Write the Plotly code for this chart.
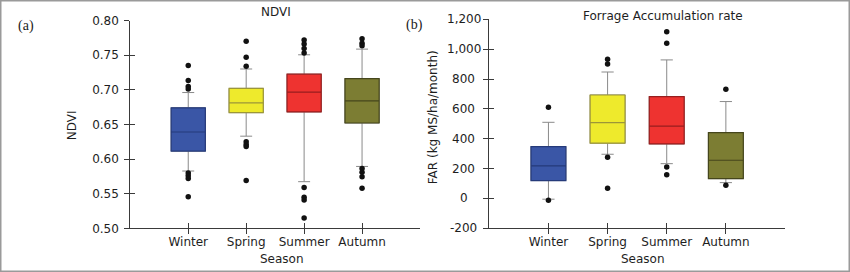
import plotly.graph_objects as go

W, H = 850, 272

seasons = ["Winter", "Spring", "Summer", "Autumn"]
fill_colors = ["#3a56a6", "#eeea2c", "#ee3330", "#7c7d33"]
edge_colors = ["#253a7a", "#9c9638", "#981e1e", "#45461c"]

# NDVI box statistics
ndvi_q1 = [0.6115, 0.667, 0.668, 0.652]
ndvi_med = [0.639, 0.681, 0.6966, 0.684]
ndvi_q3 = [0.674, 0.702, 0.7225, 0.716]
ndvi_lo = [0.5827, 0.633, 0.5673, 0.5893]
ndvi_hi = [0.696, 0.730, 0.7505, 0.7587]
ndvi_out = [
    [0.735, 0.7134, 0.7048, 0.701, 0.580, 0.576, 0.572, 0.5457],
    [0.770, 0.747, 0.734, 0.625, 0.621, 0.618, 0.569],
    [0.772, 0.766, 0.7596, 0.753, 0.559, 0.5447, 0.5409, 0.5149],
    [0.7736, 0.767, 0.7635, 0.5865, 0.581, 0.5746, 0.558],
]

# FAR box statistics
far_q1 = [120, 370, 365, 133]
far_med = [218, 508, 484, 256]
far_q3 = [347, 693, 682, 441]
far_lo = [-5, 296, 233, 106]
far_hi = [510, 847, 928, 649]
far_out = [
    [611, -12],
    [932, 901, 276, 68],
    [1117, 1039, 211, 158],
    [731, 89],
]

ndvi_ticks = [0.50, 0.55, 0.60, 0.65, 0.70, 0.75, 0.80]
ndvi_ticklabels = ["0.50", "0.55", "0.60", "0.65", "0.70", "0.75", "0.80"]
far_ticks = [-200, 0, 200, 400, 600, 800, 1000, 1200]
far_ticklabels = ["-200", "0", "200", "400", "600", "800", "1,000", "1,200"]

FONT = "DejaVu Sans"
AX = "#3a3a3a"
WH = "#8a8a8a"

fig = go.Figure()

def add_panel(xa, ya, q1, med, q3, lo, hi, outs):
    for i, s in enumerate(seasons):
        # whiskers (gray)
        fig.add_trace(go.Box(
            x=[s], q1=[q1[i]], median=[med[i]], q3=[q3[i]],
            lowerfence=[lo[i]], upperfence=[hi[i]],
            xaxis=xa, yaxis=ya, width=0.59, whiskerwidth=0.35,
            fillcolor="rgba(0,0,0,0)", line=dict(color=WH, width=1),
            boxpoints=False, showlegend=False, hoverinfo="skip"))
        # coloured box on top
        fig.add_trace(go.Box(
            x=[s], q1=[q1[i]], median=[med[i]], q3=[q3[i]],
            lowerfence=[q1[i]], upperfence=[q3[i]],
            xaxis=xa, yaxis=ya, width=0.59, whiskerwidth=0,
            fillcolor=fill_colors[i], line=dict(color=edge_colors[i], width=1.2),
            boxpoints=False, showlegend=False, hoverinfo="skip"))
        fig.add_trace(go.Scatter(
            x=[s] * len(outs[i]), y=outs[i], mode="markers",
            xaxis=xa, yaxis=ya,
            marker=dict(color="#111111", size=5.5),
            showlegend=False, hoverinfo="skip"))

add_panel("x", "y", ndvi_q1, ndvi_med, ndvi_q3, ndvi_lo, ndvi_hi, ndvi_out)
add_panel("x2", "y2", far_q1, far_med, far_q3, far_lo, far_hi, far_out)

def px_x(v):
    return v / W

def px_y(v):
    return 1 - v / H

tickfont = dict(family=FONT, size=12, color="#1e1e1e")

common_x = dict(type="category", categoryorder="array", categoryarray=seasons,
                range=[-1, 4], showline=True, linecolor=AX, linewidth=1,
                ticks="outside", ticklen=5, tickcolor=AX, tickwidth=1,
                showgrid=False, zeroline=False, tickfont=tickfont, automargin=False,
                fixedrange=True, ticklabelstandoff=-3)
common_y = dict(showline=True, linecolor=AX, linewidth=1,
                ticks="outside", ticklen=5, tickcolor=AX, tickwidth=1,
                showgrid=False, zeroline=False, tickfont=tickfont, automargin=False)

left_dom = [px_x(130.3), px_x(420)]
right_dom = [px_x(489.3), px_x(785)]
left_ydom = [px_y(228.3), px_y(20.5)]
right_ydom = [px_y(228.3), px_y(19.3)]

fig.update_layout(
    width=W, height=H,
    margin=dict(l=0, r=0, t=0, b=0),
    paper_bgcolor="white", plot_bgcolor="white",
    boxmode="overlay",
    xaxis=dict(common_x, domain=left_dom, anchor="y"),
    yaxis=dict(common_y, domain=left_ydom, anchor="x", range=[0.5, 0.8],
               tickvals=ndvi_ticks, ticktext=ndvi_ticklabels, ticklabelstandoff=3),
    xaxis2=dict(common_x, domain=right_dom, anchor="y2"),
    yaxis2=dict(common_y, domain=right_ydom, anchor="x2", range=[-200, 1200],
                tickvals=far_ticks, ticktext=[""] * len(far_ticks)),
    # overlay axes for the inner half of crossing tick marks
    xaxis3=dict(overlaying="x", anchor="y", range=[-1, 4], tickvals=[0, 1, 2, 3],
                ticks="inside", ticklen=5, tickcolor=AX, showticklabels=False,
                showline=False, showgrid=False, zeroline=False),
    yaxis3=dict(overlaying="y", anchor="x", range=[0.5, 0.8], tickvals=ndvi_ticks,
                ticks="inside", ticklen=5, tickcolor=AX, showticklabels=False,
                showline=False, showgrid=False, zeroline=False),
    xaxis4=dict(overlaying="x2", anchor="y2", range=[-1, 4], tickvals=[0, 1, 2, 3],
                ticks="inside", ticklen=5, tickcolor=AX, showticklabels=False,
                showline=False, showgrid=False, zeroline=False),
    yaxis4=dict(overlaying="y2", anchor="x2", range=[-200, 1200], tickvals=far_ticks,
                ticks="inside", ticklen=5, tickcolor=AX, showticklabels=False,
                showline=False, showgrid=False, zeroline=False),
)

# invisible traces to activate overlay axes
fig.add_trace(go.Scatter(x=[None], y=[None], xaxis="x3", yaxis="y3", showlegend=False))
fig.add_trace(go.Scatter(x=[None], y=[None], xaxis="x4", yaxis="y4", showlegend=False))

ann = []
txt = dict(family=FONT, size=12, color="#1e1e1e")
serif = dict(family="Liberation Serif", size=14, color="#222222")

def label(text, x, y, font=txt, angle=0):
    ann.append(dict(text=text, x=px_x(x), y=px_y(y), xref="paper", yref="paper",
                    xanchor="center", yanchor="middle", showarrow=False,
                    textangle=angle, font=font))

label("(a)", 26, 26, serif)
label("(b)", 414, 25, serif)
label("NDVI", 275.8, 12)
label("Forrage Accumulation rate", 662.8, 15.5)
label("Season", 281.5, 258.7)
label("Season", 643, 259)
label("NDVI", 72.3, 125, angle=-90)
label("FAR (kg MS/ha/month)", 432.7, 117.5, angle=-90)
for v, t in zip(far_ticks, far_ticklabels):
    ann.append(dict(text=t, x=px_x(463.7), y=v, xref="paper", yref="y2",
                    xanchor="center", yanchor="middle", showarrow=False, font=tickfont))
fig.update_layout(annotations=ann)

fig.add_shape(type="rect", xref="paper", yref="paper", x0=0, x1=1, y0=0, y1=1,
              line=dict(color="#9a9a9a", width=3), fillcolor="rgba(0,0,0,0)")

fig.write_html("out.html", config={"displayModeBar": False},
               post_script="document.body.style.margin='0';document.body.style.overflow='hidden';")
